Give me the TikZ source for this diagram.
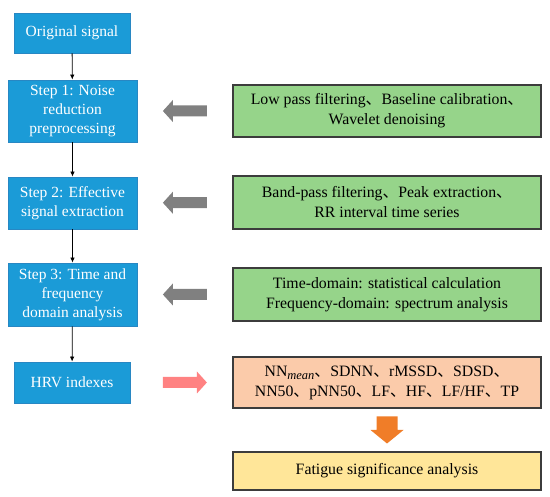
\documentclass[tikz,border=0pt]{standalone}
\usepackage{fontspec}
\setmainfont{Liberation Serif}
\newfontfamily\cjk{Noto Sans CJK SC}
\usetikzlibrary{arrows.meta,calc}
\newcommand\dun{{\cjk 、}}
\newcommand\meansub{\raisebox{-3.5pt}{\fontsize{12.5}{12}\selectfont\itshape mean}}
\definecolor{bluefill}{RGB}{27,155,215}
\definecolor{blueline}{RGB}{40,135,195}
\definecolor{greenfill}{RGB}{150,212,138}
\definecolor{salmonfill}{RGB}{251,203,170}
\definecolor{yellowfill}{RGB}{255,230,153}
\definecolor{boxline}{RGB}{60,60,60}
\definecolor{grayarrow}{RGB}{128,128,128}
\definecolor{pinkarrow}{RGB}{255,130,130}
\definecolor{orangearrow}{RGB}{240,125,40}
\tikzset{
  bluebox/.style={draw=blueline, line width=0.8pt, fill=bluefill, text=white, align=center,
    inner sep=2pt, font=\fontsize{15.5}{19}\selectfont},
  rbox/.style={draw=boxline, line width=1.3pt, align=center, inner sep=2pt,
    minimum width=308pt, font=\fontsize{15.8}{20}\selectfont},
  flowline/.style={line width=0.8pt, -{Latex[length=5pt,width=4.5pt]}},
  leftblock/.pic={\path[pic actions] (-22,0) -- (-12,-11) -- (-12,-5.5) -- (22,-5.5)
    -- (22,5.5) -- (-12,5.5) -- (-12,11) -- cycle;},
  downblock/.pic={\path[pic actions] (0,13.5) -- (16.5,0) -- (10.5,0) -- (10.5,-13.5)
    -- (-10.5,-13.5) -- (-10.5,0) -- (-16.5,0) -- cycle;},
}
\begin{document}
\begin{tikzpicture}[x=1pt,y=-1pt]
\useasboundingbox (0,0) rectangle (550,497);
% left column
\node[bluebox, minimum width=116pt, minimum height=40pt] (orig) at (72,33) {Original signal};
\node[bluebox, minimum width=129pt, minimum height=62pt] (s1) at (72.5,111) {Step 1: Noise\\reduction\\preprocessing};
\node[bluebox, minimum width=129pt, minimum height=52pt] (s2) at (72.5,203) {Step 2: Effective\\signal extraction};
\node[bluebox, minimum width=129pt, minimum height=63pt] (s3) at (72.5,294.5) {Step 3: Time and\\frequency\\domain analysis};
\node[bluebox, minimum width=116pt, minimum height=41pt] (hrv) at (72,382.5) {HRV indexes};
% right column
\node[rbox, fill=greenfill, minimum height=52pt] (g1) at (387,111) {Low pass filtering\dun Baseline calibration\dun\\Wavelet denoising};
\node[rbox, fill=greenfill, minimum height=53pt] (g2) at (387,202.5) {Band-pass filtering\dun Peak extraction\dun\\RR interval time series};
\node[rbox, fill=greenfill, minimum height=53pt] (g3) at (387,294.5) {Time-domain: statistical calculation\\Frequency-domain: spectrum analysis};
\node[rbox, fill=salmonfill, minimum height=51pt] (sal) at (387,382.5) {NN\meansub\dun SDNN\dun rMSSD\dun SDSD\dun\\NN50\dun pNN50\dun LF\dun HF\dun LF/HF\dun TP};
\node[rbox, fill=yellowfill, minimum height=38pt] (yel) at (387,471) {Fatigue significance analysis};
% vertical flow
\draw[flowline] (orig) -- (s1);
\draw[flowline] (s1) -- (s2);
\draw[flowline] (s2) -- (s3);
\draw[flowline] (s3) -- (hrv);
% side block arrows
\coordinate (a1) at ($(s1.east)!.5!(g1.west)$);
\coordinate (a2) at ($(s2.east)!.5!(g2.west)$);
\coordinate (a3) at ($(s3.east)!.5!(g3.west)$);
\coordinate (a4) at (a3 |- hrv);
\coordinate (a5) at ($(sal.south)!.5!(yel.north)$);
\pic[fill=grayarrow] at (a1) {leftblock};
\pic[fill=grayarrow] at (a2) {leftblock};
\pic[fill=grayarrow] at (a3) {leftblock};
\pic[fill=pinkarrow, rotate=180] at (a4) {leftblock};
\pic[fill=orangearrow] at (a5) {downblock};
\end{tikzpicture}
\end{document}
